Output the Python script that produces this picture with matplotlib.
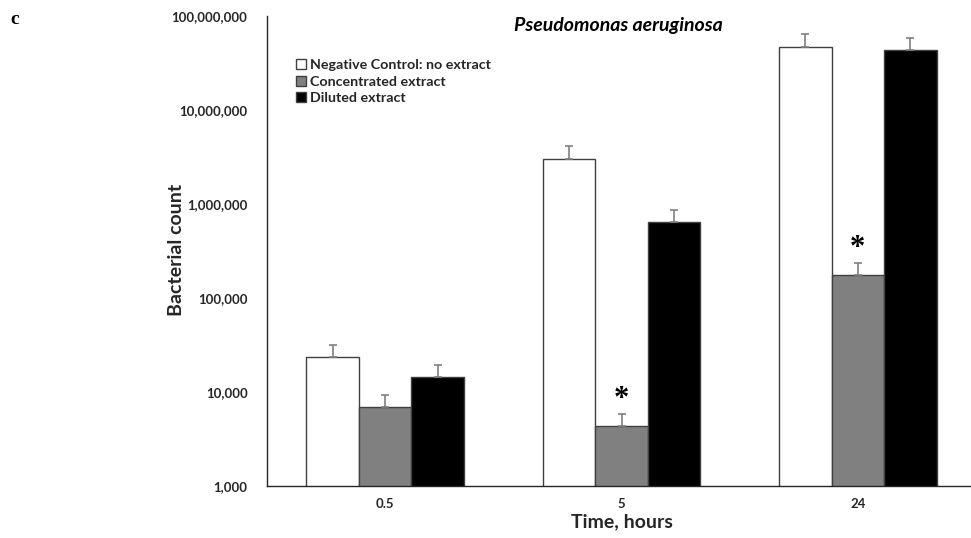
import matplotlib
matplotlib.use("Agg")
import matplotlib.pyplot as plt
import numpy as np
from matplotlib.ticker import FixedLocator, FuncFormatter

plt.rcParams['font.family'] = ['Lato', 'DejaVu Sans']

categories = ["0.5", "5", "24"]
series_names = ["Negative Control: no extract", "Concentrated extract", "Diluted extract"]
negative = [23400, 3034000, 47100000]
negative_err = [8200, 1080000, 17300000]
concentrated = [6920, 4380, 175800]
concentrated_err = [2300, 1500, 60000]
diluted = [14450, 638000, 43500000]
diluted_err = [5050, 232000, 14500000]
significant = [False, True, True]  # star over concentrated extract
y_ticks = [1e3, 1e4, 1e5, 1e6, 1e7, 1e8]

colors = ["#ffffff", "#808080", "#000000"]

fig = plt.figure(figsize=(9.71, 5.38), dpi=100)
ax = fig.add_axes([267/971, 1-486/538, 709/971, 470/538])

x = np.arange(len(categories))
w = 0.2225
values = [negative, concentrated, diluted]
errs = [negative_err, concentrated_err, diluted_err]
for i, (vals, er, c, name) in enumerate(zip(values, errs, colors, series_names)):
    pos = x + (i - 1) * w
    ax.bar(pos, vals, width=w, color=c, edgecolor="#404040", linewidth=1.0,
           label=name)
    ax.errorbar(pos, vals, yerr=[np.zeros(len(vals)), er], fmt="none",
                ecolor="#808080", elinewidth=1.2, capsize=3, capthick=1.2)

for xi, sig, v, e in zip(x, significant, concentrated, concentrated_err):
    if sig:
        ax.annotate("*", (xi, v + e), xytext=(0, 10.5), textcoords="offset points",
                    ha="center", va="center", fontsize=22, fontweight="bold",
                    family="Liberation Serif")

ax.set_yscale("log")
ax.set_ylim(1e3, 1e8)
ax.set_xlim(-0.5, 2.5)
ax.yaxis.set_major_locator(FixedLocator(y_ticks))
ax.yaxis.set_minor_locator(FixedLocator([]))
ax.yaxis.set_major_formatter(FuncFormatter(lambda v, p: f"{int(round(v)):,}"))
ax.set_xticks(x)
ax.set_xticklabels(categories)
ax.tick_params(axis="both", length=0, labelsize=9.5)
ax.tick_params(axis="y", pad=14)
ax.tick_params(axis="x", pad=9)
for lab in ax.get_xticklabels() + ax.get_yticklabels():
    lab.set_fontweight("bold")
    lab.set_color("#262626")

for s in ["top", "right"]:
    ax.spines[s].set_visible(False)
for s in ["left", "bottom"]:
    ax.spines[s].set_color("#262626")
    ax.spines[s].set_linewidth(1.0)

fig.text(622/971, 1-522/538, "Time, hours", ha="center", va="center",
         fontsize=14, fontweight="bold", color="#262626")
fig.text(177/971, 1-250/538, "Bacterial count", ha="center", va="center",
         rotation=90, fontsize=14, fontweight="bold", color="#262626")

fig.text(618/971, 1-25/538, "Pseudomonas aeruginosa", ha="center", va="center",
         fontsize=14, fontweight="bold", style="italic")
fig.text(10/971, 1-20/538, "c", ha="left", va="center", fontsize=14,
         fontweight="bold", family="Liberation Serif")

leg = ax.legend(loc="upper left", bbox_to_anchor=((296-267)/709, 0.908),
                frameon=False, fontsize=10.3, handlelength=0.7, handleheight=0.7,
                handletextpad=0.3, labelspacing=0.3, borderaxespad=0, borderpad=0)
for t in leg.get_texts():
    t.set_fontweight("bold")
    t.set_color("#262626")

fig.savefig("out.png", dpi=100)
